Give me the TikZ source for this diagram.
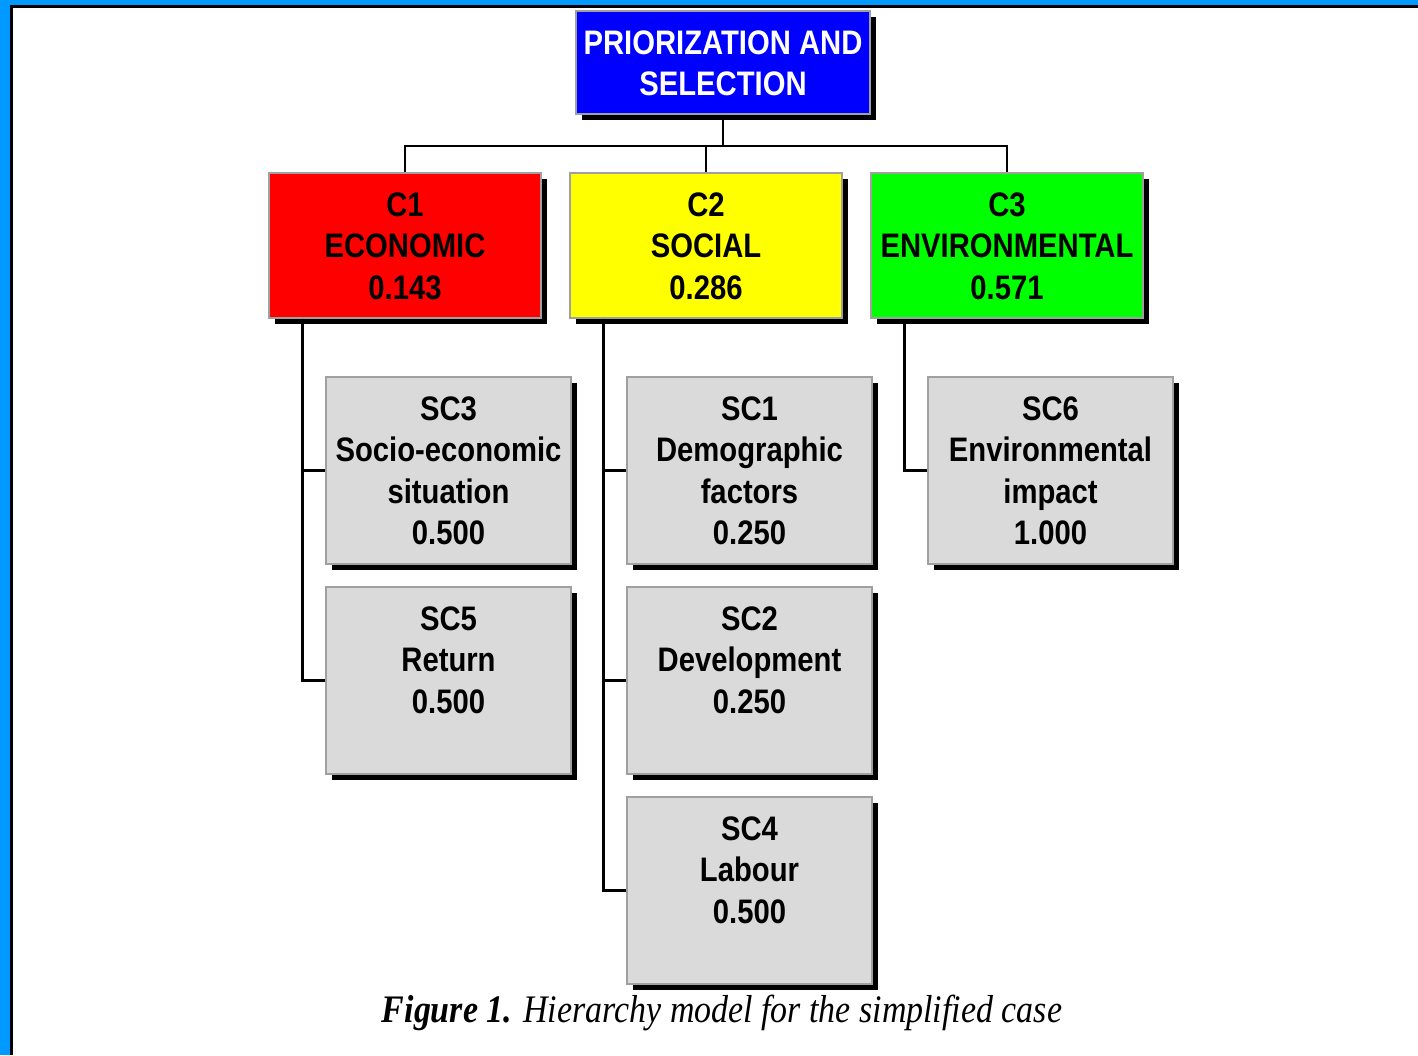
\documentclass[tikz,border=0pt]{standalone}
\usepackage{fontspec}
\usetikzlibrary{shadows}
\newfontfamily\boxfont[FakeStretch=0.86]{Liberation Sans}
\newfontfamily\capfont[FakeStretch=0.87]{Liberation Serif}
\definecolor{framblue}{HTML}{0099FF}
\definecolor{topblue}{HTML}{0000FF}
\definecolor{cred}{HTML}{FF0000}
\definecolor{cyellow}{HTML}{FFFF00}
\definecolor{cgreen}{HTML}{00FF00}
\definecolor{scgray}{HTML}{DADADA}
\definecolor{edgegray}{HTML}{A0A0A0}
\newcommand\bxt[3]{\parbox[c][#2][t]{#1}{\centering\boxfont\bfseries\fontsize{34}{41.3}\selectfont\rule{0pt}{43.5pt}#3}}
\tikzset{
  boxbase/.style={draw=edgegray, line width=1.2pt, inner sep=0pt,
    general shadow={fill=black, shadow xshift=6pt, shadow yshift=-6pt}},
  conn/.style={draw=black, line width=2.2pt},
}
\begin{document}
\begin{tikzpicture}[x=1pt,y=1pt]
\useasboundingbox (0,0) rectangle (1418,-1055);
\fill[white] (0,0) rectangle (1418,-1055);
\fill[framblue] (0,0) rectangle (1418,-5);
\fill[framblue] (0,0) rectangle (10,-1055);
\fill[black] (10,-5) rectangle (1418,-7.5);
\fill[black] (10,-5) rectangle (12.5,-1055);

\node[boxbase, fill=topblue, text=white] (top) at (723,-62.5) {\bxt{294pt}{103pt}{\rule{0pt}{41.5pt}\hspace{0pt}PRIORIZATION AND\\SELECTION}};

\node[boxbase, fill=cred] (C1) at (405,-245.5) {\bxt{272pt}{145pt}{C1\\ECONOMIC\\0.143}};
\node[boxbase, fill=cyellow] (C2) at (706,-245.5) {\bxt{272pt}{145pt}{C2\\SOCIAL\\0.286}};
\node[boxbase, fill=cgreen] (C3) at (1007,-245.5) {\bxt{272pt}{145pt}{C3\\ENVIRONMENTAL\\0.571}};

\node[boxbase, fill=scgray] (SC3) at (448.5,-470.5) {\bxt{245pt}{187pt}{SC3\\Socio-economic\\situation\\0.500}};
\node[boxbase, fill=scgray] (SC5) at (448.5,-680.5) {\bxt{245pt}{187pt}{SC5\\Return\\0.500}};
\node[boxbase, fill=scgray] (SC1) at (749.5,-470.5) {\bxt{245pt}{187pt}{SC1\\Demographic\\factors\\0.250}};
\node[boxbase, fill=scgray] (SC2) at (749.5,-680.5) {\bxt{245pt}{187pt}{SC2\\Development\\0.250}};
\node[boxbase, fill=scgray] (SC4) at (749.5,-890.5) {\bxt{245pt}{187pt}{SC4\\Labour\\0.500}};
\node[boxbase, fill=scgray] (SC6) at (1050.5,-470.5) {\bxt{245pt}{187pt}{SC6\\Environmental\\impact\\1.000}};

\coordinate (bus) at (723,-146);
\draw[conn] (top.south) -- (bus);
\draw[conn] (bus) -| (C1.north);
\draw[conn] (bus) -| (C2.north);
\draw[conn] (bus) -| (C3.north);

\coordinate (t1) at ([xshift=34pt]C1.south west);
\coordinate (t2) at ([xshift=34pt]C2.south west);
\coordinate (t3) at ([xshift=34pt]C3.south west);
\draw[conn] (t1) |- (SC3.west);
\draw[conn] (t1) |- (SC5.west);
\draw[conn] (t2) |- (SC1.west);
\draw[conn] (t2) |- (SC2.west);
\draw[conn] (t2) |- (SC4.west);
\draw[conn] (t3) |- (SC6.west);

\node[anchor=base, inner sep=0pt] (cap) at (722,-1022) {\capfont\fontsize{39}{42}\selectfont\textbf{\textit{Figure 1.}} \textit{Hierarchy model for the simplified case}};
\end{tikzpicture}
\end{document}
